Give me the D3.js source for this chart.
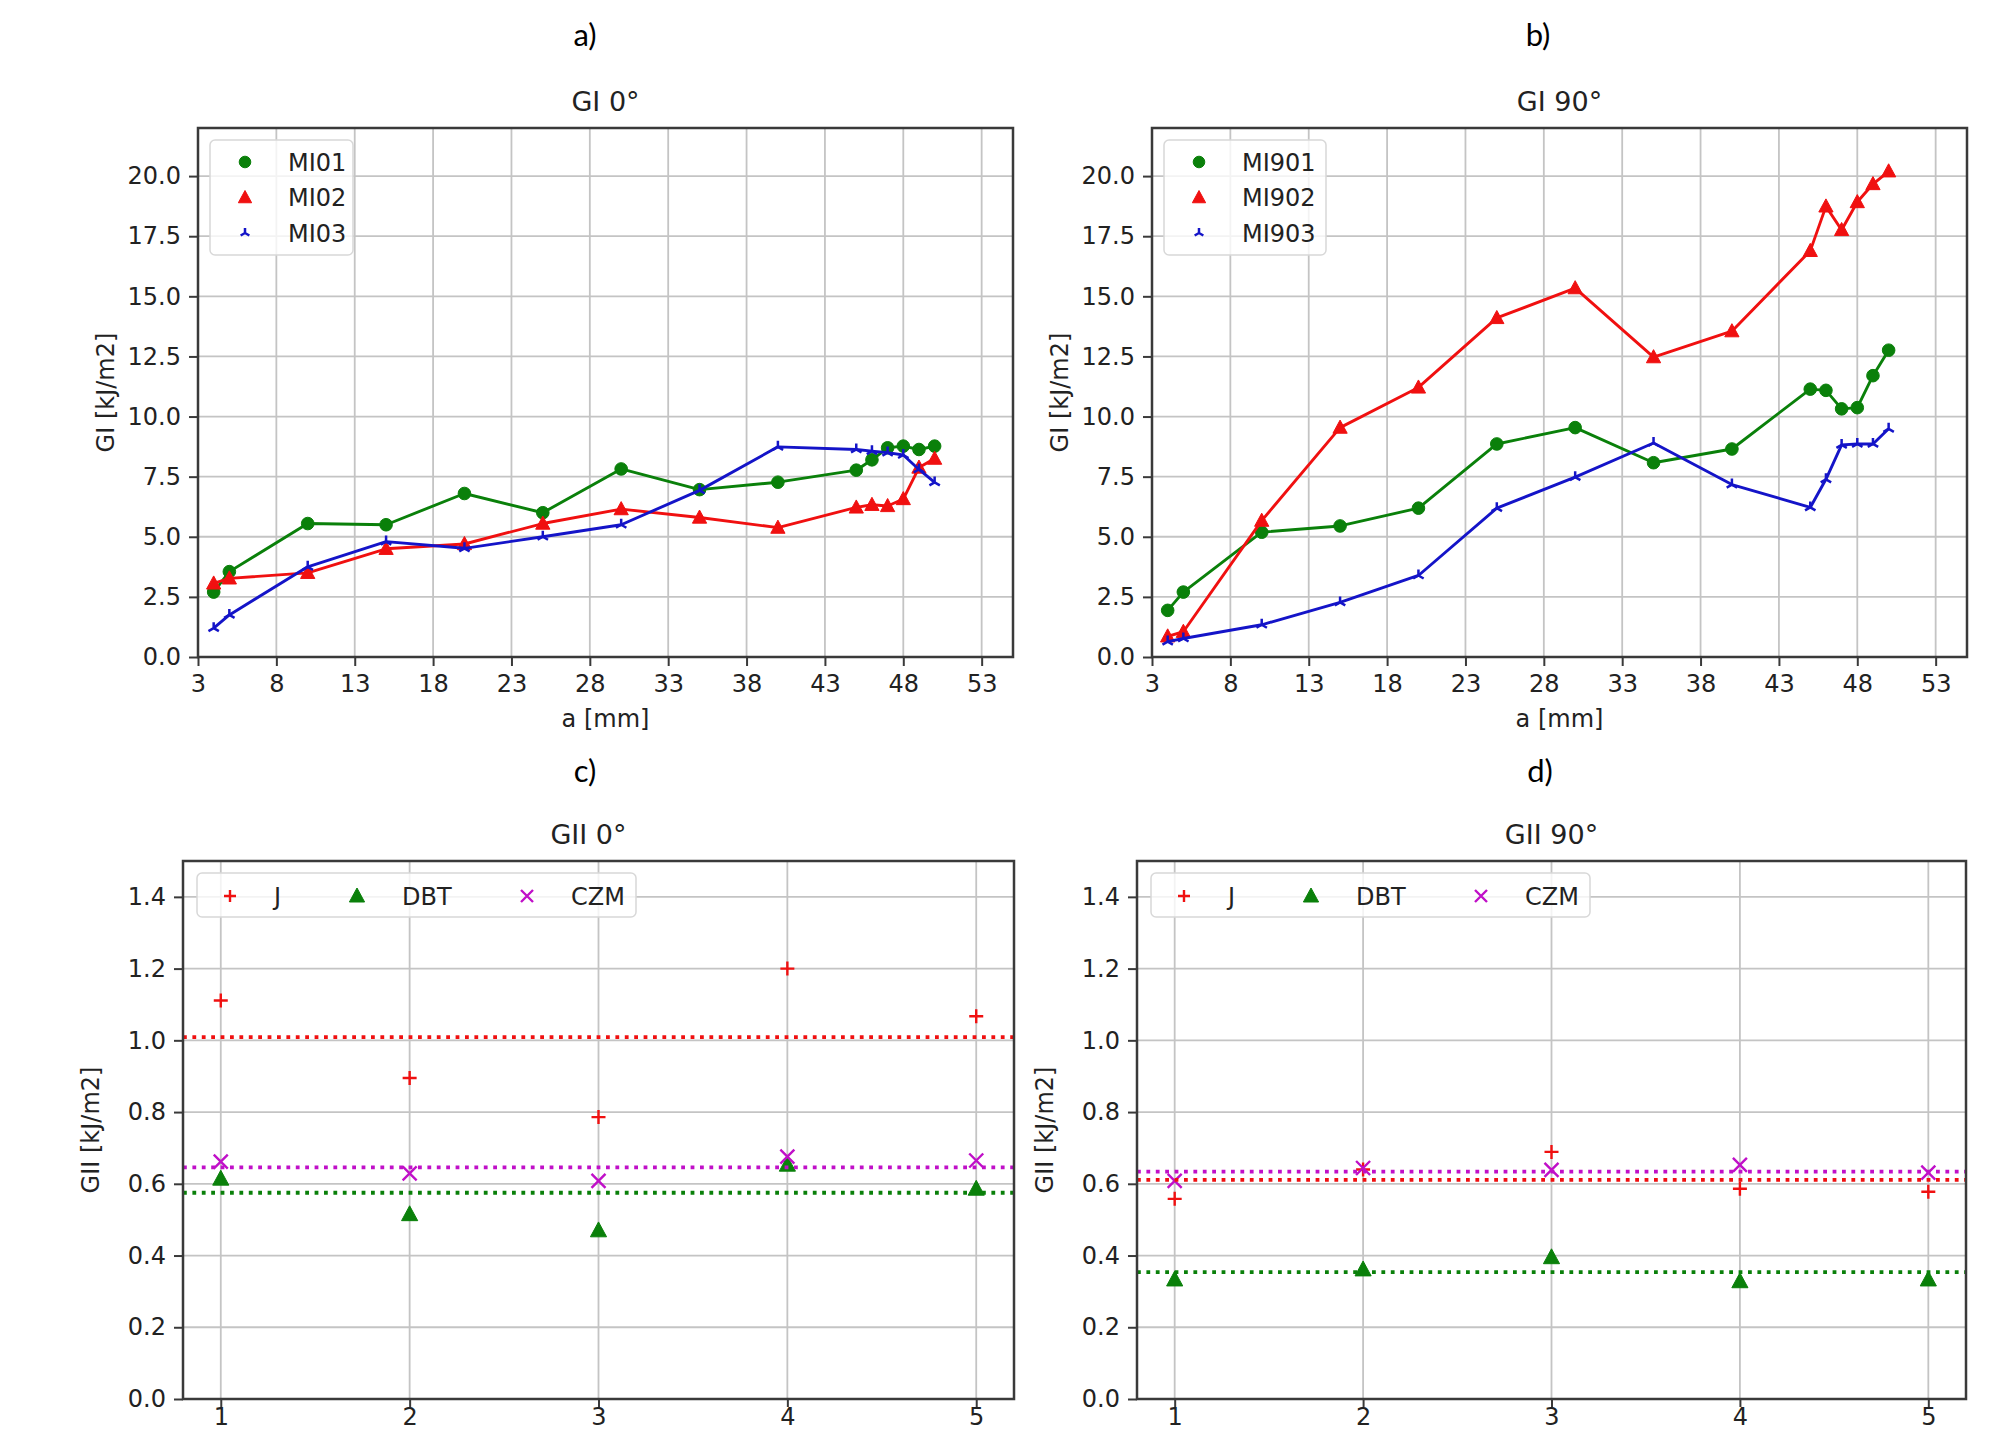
<!DOCTYPE html>
<html><head><meta charset="utf-8">
<script src="https://cdn.jsdelivr.net/npm/d3@7"></script>
<style>body{margin:0;background:#fff} svg{display:block}</style>
</head><body>
<svg id="chart" width="2008" height="1432"></svg>
<script>
// ---------- data ----------
const aMM = [4,5,10,15,20,25,30,35,40,45,46,47,48,49,50];
const MI01 = [2.7,3.55,5.55,5.5,6.8,6.0,7.82,6.96,7.27,7.77,8.2,8.7,8.77,8.63,8.77];
const MI02 = [3.06,3.27,3.5,4.5,4.7,5.55,6.15,5.8,5.38,6.22,6.33,6.28,6.57,7.88,8.25];
const MI03 = [1.2,1.75,3.75,4.8,4.52,5.0,5.5,6.93,8.74,8.63,8.56,8.5,8.4,7.8,7.26];
const MI901 = [1.94,2.7,5.19,5.45,6.19,8.86,9.54,8.08,8.65,11.14,11.09,10.32,10.37,11.7,12.76];
const MI902 = [0.86,1.05,5.67,9.54,11.21,14.1,15.34,12.47,13.55,16.89,18.74,17.76,18.92,19.67,20.2];
const MI903 = [0.64,0.77,1.34,2.27,3.39,6.19,7.48,8.9,7.17,6.22,7.39,8.82,8.86,8.86,9.49];
const xTicksGI = [3,8,13,18,23,28,33,38,43,48,53];
const yTicksGI = [0,2.5,5,7.5,10,12.5,15,17.5,20];

const specimens = [1,2,3,4,5];
const GII0_J   = [1.111,0.895,0.786,1.2,1.067];
const GII0_DBT = [0.614,0.515,0.47,0.653,0.586];
const GII0_CZM = [0.662,0.629,0.608,0.676,0.665];
const GII0_mean = [1.009,0.575,0.646];   // J, DBT, CZM
const GII90_J   = [0.558,0.64,0.689,0.586,0.578];
const GII90_DBT = [0.333,0.361,0.395,0.328,0.333];
const GII90_CZM = [0.608,0.644,0.639,0.653,0.631];
const GII90_mean = [0.611,0.354,0.634];
const yTicksGII = [0,0.2,0.4,0.6,0.8,1.0,1.2,1.4];

const captions = ["a)","b)","c)","d)"];
const titles = ["GI 0°","GI 90°","GII 0°","GII 90°"];

// ---------- styling ----------
const C = {g:"#0a800a", r:"#f01010", b:"#1414c8", m:"#c010c8", grid:"#c4c4c4", frame:"#3a3a3a"};
const FONT = "DejaVu Sans, sans-serif";
const svg = d3.select("#chart");

function markerPath(type, s){
  const p = d3.path();
  if(type==="circle"){ p.arc(0,0,s,0,2*Math.PI); }
  else if(type==="tri"){ p.moveTo(0,-s); p.lineTo(s*0.95,s*0.75); p.lineTo(-s*0.95,s*0.75); p.closePath(); }
  else if(type==="plus"){ p.moveTo(-s,0); p.lineTo(s,0); p.moveTo(0,-s); p.lineTo(0,s); }
  else if(type==="x"){ p.moveTo(-s,-s); p.lineTo(s,s); p.moveTo(-s,s); p.lineTo(s,-s); }
  else if(type==="tri_up"){ p.moveTo(0,0); p.lineTo(0,-s); p.moveTo(0,0); p.lineTo(-s*0.87,s*0.5); p.moveTo(0,0); p.lineTo(s*0.87,s*0.5); }
  return p.toString();
}
function drawMarker(g, type, size, color, x, y){
  const filled = (type==="circle"||type==="tri");
  g.append("path").attr("d", markerPath(type,size))
    .attr("transform",`translate(${x},${y})`)
    .attr("fill", filled?color:"none")
    .attr("stroke", color)
    .attr("stroke-width", filled?1:(type==="tri_up"?2.5:2.4));
}

function axesFrame(box, xs, ys, xTicks, yTicks, yFmt, xTickSize, xPad){
  const g = svg.append("g");
  g.selectAll(".gx").data(xTicks).enter().append("line")
    .attr("x1",d=>xs(d)).attr("x2",d=>xs(d)).attr("y1",box.top).attr("y2",box.bottom)
    .attr("stroke",C.grid).attr("stroke-width",1.8);
  g.selectAll(".gy").data(yTicks).enter().append("line")
    .attr("y1",d=>ys(d)).attr("y2",d=>ys(d)).attr("x1",box.left).attr("x2",box.right)
    .attr("stroke",C.grid).attr("stroke-width",1.8);
  const xa = svg.append("g").attr("transform",`translate(0,${box.bottom})`)
    .call(d3.axisBottom(xs).tickValues(xTicks).tickSize(xTickSize).tickPadding(xPad).tickFormat(d3.format("d")));
  const ya = svg.append("g").attr("transform",`translate(${box.left},0)`)
    .call(d3.axisLeft(ys).tickValues(yTicks).tickSize(9).tickPadding(8).tickFormat(yFmt));
  [xa,ya].forEach(a=>{
    a.select(".domain").remove();
    a.selectAll(".tick line").attr("stroke",C.frame).attr("stroke-width",2);
    a.selectAll(".tick text").attr("font-family",FONT).attr("font-size",24).attr("fill","#222");
  });
  return g;
}
function frame(box){
  svg.append("rect").attr("x",box.left).attr("y",box.top)
    .attr("width",box.right-box.left).attr("height",box.bottom-box.top)
    .attr("fill","none").attr("stroke",C.frame).attr("stroke-width",2.5);
}
function titleAndLabels(box, title, xlabel, ylabel, titleDx){
  const cx=(box.left+box.right)/2;
  svg.append("text").attr("x",cx+(titleDx||0)).attr("y",box.top-17).attr("text-anchor","middle")
    .attr("font-family",FONT).attr("font-size",27).attr("fill","#222").text(title);
  if(xlabel) svg.append("text").attr("x",cx).attr("y",box.bottom+70).attr("text-anchor","middle")
    .attr("font-family",FONT).attr("font-size",24).attr("fill","#222").text(xlabel);
  const cy=(box.top+box.bottom)/2;
  svg.append("text").attr("transform",`translate(${box.left-84},${cy}) rotate(-90)`)
    .attr("text-anchor","middle").attr("font-family",FONT).attr("font-size",24).attr("fill","#222").text(ylabel);
}
function caption(x,y,t){
  svg.append("text").attr("x",x).attr("y",y).attr("text-anchor","middle")
    .attr("font-family","Lato, Carlito, sans-serif").attr("font-size",31).attr("fill","#000").text(t);
}

// ---------- GI panels ----------
function giPanel(box, seriesList, names, ttl){
  const xs = d3.scaleLinear().domain([3,55]).range([box.left,box.right]);
  const ys = d3.scaleLinear().domain([0,22]).range([box.bottom,box.top]);
  axesFrame(box,xs,ys,xTicksGI,yTicksGI,d3.format(".1f"),9,9);
  const g = svg.append("g");
  const styles = [{c:C.g,m:"circle",s:6.3},{c:C.r,m:"tri",s:7.5},{c:C.b,m:"tri_up",s:6}];
  seriesList.forEach((vals,i)=>{
    const st=styles[i];
    const line = d3.line().x((d,j)=>xs(aMM[j])).y(d=>ys(d));
    g.append("path").attr("d",line(vals)).attr("fill","none").attr("stroke",st.c).attr("stroke-width",2.9).attr("stroke-linejoin","round");
    vals.forEach((v,j)=>drawMarker(g,st.m,st.s,st.c,xs(aMM[j]),ys(v)));
  });
  frame(box);
  const lg = svg.append("g");
  const lx = box.left+12, ly = box.top+12;
  lg.append("rect").attr("x",lx).attr("y",ly).attr("width",names[0].length>4?162:143).attr("height",115)
    .attr("rx",5).attr("fill","white").attr("fill-opacity",0.8).attr("stroke","#d8d8d8").attr("stroke-width",1.5);
  names.forEach((n,i)=>{
    const yy = ly+22+i*35.5;
    const st=styles[i];
    drawMarker(lg,st.m,st.m==="tri_up"?5:st.s-0.5,st.c,lx+35,yy);
    lg.append("text").attr("x",lx+78).attr("y",yy).attr("dy","0.36em").attr("font-family",FONT)
      .attr("font-size",24).attr("fill","#222").text(n);
  });
  titleAndLabels(box,ttl,"a [mm]","GI [kJ/m2]",0);
}

// ---------- GII panels ----------
function giiPanel(box, J, DBT, CZM, means, ttl, titleDx){
  const xs = d3.scaleLinear().domain([0.8,5.2]).range([box.left,box.right]);
  const ys = d3.scaleLinear().domain([0,1.5]).range([box.bottom,box.top]);
  axesFrame(box,xs,ys,specimens,yTicksGII,d3.format(".1f"),8,1);
  const g = svg.append("g");
  const cols=[C.r,C.g,C.m];
  const types=["plus","tri","x"];
  const sizes=[7,8.5,7];
  [J,DBT,CZM].forEach((vals,i)=>{
    vals.forEach((v,j)=>drawMarker(g,types[i],sizes[i],cols[i],xs(specimens[j]),ys(v)));
  });
  means.forEach((m,i)=>{
    g.append("line").attr("x1",box.left).attr("x2",box.right).attr("y1",ys(m)).attr("y2",ys(m))
      .attr("stroke",cols[i]).attr("stroke-width",3.8).attr("stroke-dasharray","3.8,5.6");
  });
  frame(box);
  const lg = svg.append("g");
  const lx = box.left+14, ly = box.top+12;
  lg.append("rect").attr("x",lx).attr("y",ly).attr("width",439).attr("height",44)
    .attr("rx",5).attr("fill","white").attr("fill-opacity",0.8).attr("stroke","#d8d8d8").attr("stroke-width",1.5);
  const names=["J","DBT","CZM"];
  const mx=[33,160,330], tx=[77,205,374];
  names.forEach((n,i)=>{
    drawMarker(lg,types[i],i===1?8:6,cols[i],lx+mx[i],ly+23);
    lg.append("text").attr("x",lx+tx[i]).attr("y",ly+23).attr("dy","0.36em").attr("font-family",FONT)
      .attr("font-size",24).attr("fill","#222").text(n);
  });
  titleAndLabels(box,ttl,null,"GII [kJ/m2]",titleDx);
}

const boxes = [
  {left:198,right:1013,top:128,bottom:657},
  {left:1152,right:1967,top:128,bottom:657},
  {left:183,right:1014,top:861,bottom:1399},
  {left:1137,right:1966,top:861,bottom:1399}
];
giPanel(boxes[0],[MI01,MI02,MI03],["MI01","MI02","MI03"],titles[0]);
giPanel(boxes[1],[MI901,MI902,MI903],["MI901","MI902","MI903"],titles[1]);
giiPanel(boxes[2],GII0_J,GII0_DBT,GII0_CZM,GII0_mean,titles[2],-10);
giiPanel(boxes[3],GII90_J,GII90_DBT,GII90_CZM,GII90_mean,titles[3],0);

caption(585,46,captions[0]);
caption(1538,46,captions[1]);
caption(585,782,captions[2]);
caption(1540,782,captions[3]);
</script>
</body></html>
